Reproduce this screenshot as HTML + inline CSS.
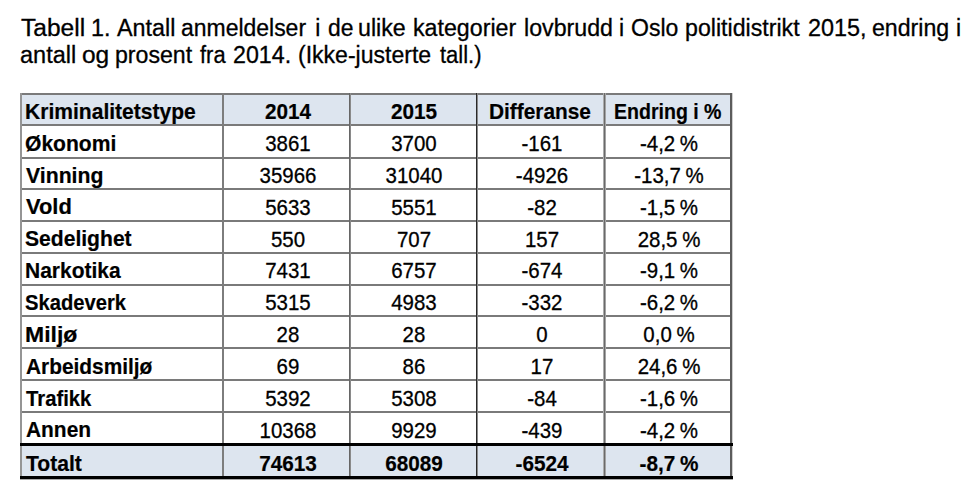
<!DOCTYPE html>
<html><head><meta charset="utf-8"><style>
html,body{margin:0;padding:0;background:#fff;width:979px;height:495px;overflow:hidden;position:relative}
.t{position:absolute;white-space:nowrap;font-family:"Liberation Sans",sans-serif;color:#000;line-height:1}
.c{text-align:center;width:200px}
.b{font-weight:bold}
.ln{position:absolute;background:#7a7a7a}
.bg{position:absolute;background:#dde5ef}
</style></head><body>

<div class="bg" style="left:21px;top:94px;width:710px;height:31px"></div>
<div class="bg" style="left:21px;top:444.5px;width:710px;height:33.0px"></div>
<div class="t" style="left:20.52px;top:17.03px;font-size:23.0px;transform:scaleX(1.0667);transform-origin:0 0;-webkit-text-stroke:0.3px #000">Tabell</div>
<div class="t" style="left:90.74px;top:17.03px;font-size:23.0px;transform:scaleX(1.0149);transform-origin:0 0;-webkit-text-stroke:0.3px #000">1.</div>
<div class="t" style="left:116.70px;top:17.03px;font-size:23.0px;transform:scaleX(1.0140);transform-origin:0 0;-webkit-text-stroke:0.3px #000">Antall</div>
<div class="t" style="left:181.38px;top:17.03px;font-size:23.0px;transform:scaleX(0.9979);transform-origin:0 0;-webkit-text-stroke:0.3px #000">anmeldelser</div>
<div class="t" style="left:315.26px;top:17.03px;font-size:23.0px;transform:scaleX(1.0000);transform-origin:0 0;-webkit-text-stroke:0.3px #000">i</div>
<div class="t" style="left:328.29px;top:17.03px;font-size:23.0px;transform:scaleX(0.9945);transform-origin:0 0;-webkit-text-stroke:0.3px #000">de</div>
<div class="t" style="left:358.45px;top:17.03px;font-size:23.0px;transform:scaleX(1.0082);transform-origin:0 0;-webkit-text-stroke:0.3px #000">ulike</div>
<div class="t" style="left:412.95px;top:17.03px;font-size:23.0px;transform:scaleX(1.0087);transform-origin:0 0;-webkit-text-stroke:0.3px #000">kategorier</div>
<div class="t" style="left:523.65px;top:17.03px;font-size:23.0px;transform:scaleX(1.0082);transform-origin:0 0;-webkit-text-stroke:0.3px #000">lovbrudd</div>
<div class="t" style="left:619.06px;top:17.03px;font-size:23.0px;transform:scaleX(1.0000);transform-origin:0 0;-webkit-text-stroke:0.3px #000">i</div>
<div class="t" style="left:631.12px;top:17.03px;font-size:23.0px;transform:scaleX(1.0004);transform-origin:0 0;-webkit-text-stroke:0.3px #000">Oslo</div>
<div class="t" style="left:685.25px;top:17.03px;font-size:23.0px;transform:scaleX(1.0072);transform-origin:0 0;-webkit-text-stroke:0.3px #000">politidistrikt</div>
<div class="t" style="left:807.50px;top:17.03px;font-size:23.0px;transform:scaleX(1.0172);transform-origin:0 0;-webkit-text-stroke:0.3px #000">2015,</div>
<div class="t" style="left:872.18px;top:17.03px;font-size:23.0px;transform:scaleX(1.0065);transform-origin:0 0;-webkit-text-stroke:0.3px #000">endring</div>
<div class="t" style="left:956.06px;top:17.03px;font-size:23.0px;transform:scaleX(1.0000);transform-origin:0 0;-webkit-text-stroke:0.3px #000">i</div>
<div class="t" style="left:20.37px;top:44.13px;font-size:23.0px;transform:scaleX(1.0218);transform-origin:0 0;-webkit-text-stroke:0.3px #000">antall</div>
<div class="t" style="left:82.23px;top:44.13px;font-size:23.0px;transform:scaleX(1.0648);transform-origin:0 0;-webkit-text-stroke:0.3px #000">og</div>
<div class="t" style="left:115.25px;top:44.13px;font-size:23.0px;transform:scaleX(1.0059);transform-origin:0 0;-webkit-text-stroke:0.3px #000">prosent</div>
<div class="t" style="left:199.90px;top:44.13px;font-size:23.0px;transform:scaleX(0.9523);transform-origin:0 0;-webkit-text-stroke:0.3px #000">fra</div>
<div class="t" style="left:233.11px;top:44.13px;font-size:23.0px;transform:scaleX(1.0092);transform-origin:0 0;-webkit-text-stroke:0.3px #000">2014.</div>
<div class="t" style="left:297.82px;top:44.13px;font-size:23.0px;transform:scaleX(1.0014);transform-origin:0 0;-webkit-text-stroke:0.3px #000">(Ikke-justerte</div>
<div class="t" style="left:440.40px;top:44.13px;font-size:23.0px;transform:scaleX(0.9560);transform-origin:0 0;-webkit-text-stroke:0.3px #000">tall.)</div>
<div class="ln" style="left:20px;top:93.0px;width:712px;height:2px"></div>
<div class="ln" style="left:20px;top:124.0px;width:712px;height:2px"></div>
<div class="ln" style="left:20px;top:156.5px;width:712px;height:2px"></div>
<div class="ln" style="left:20px;top:188.0px;width:712px;height:2px"></div>
<div class="ln" style="left:20px;top:220.0px;width:712px;height:2px"></div>
<div class="ln" style="left:20px;top:251.5px;width:712px;height:2px"></div>
<div class="ln" style="left:20px;top:283.5px;width:712px;height:2px"></div>
<div class="ln" style="left:20px;top:315.0px;width:712px;height:2px"></div>
<div class="ln" style="left:20px;top:347.0px;width:712px;height:2px"></div>
<div class="ln" style="left:20px;top:379.0px;width:712px;height:2px"></div>
<div class="ln" style="left:20px;top:410.5px;width:712px;height:2px"></div>
<div class="ln" style="background:#959595;left:20px;top:93px;width:1px;height:385.5px"></div>
<div class="ln" style="background:#959595;left:21px;top:93px;width:1px;height:385.5px"></div>
<div class="ln" style="background:#7d7d7d;left:222px;top:93px;width:1px;height:385.5px"></div>
<div class="ln" style="background:#7d7d7d;left:223px;top:93px;width:1px;height:385.5px"></div>
<div class="ln" style="background:#666;left:349px;top:93px;width:1px;height:385.5px"></div>
<div class="ln" style="background:#8a8a8a;left:350px;top:93px;width:1px;height:385.5px"></div>
<div class="ln" style="background:#2a2a2a;left:476px;top:93px;width:1px;height:385.5px"></div>
<div class="ln" style="background:#8a8a8a;left:477px;top:93px;width:1px;height:385.5px"></div>
<div class="ln" style="background:#acacac;left:603px;top:93px;width:1px;height:385.5px"></div>
<div class="ln" style="background:#6a6a6a;left:604px;top:93px;width:1px;height:385.5px"></div>
<div class="ln" style="background:#a4a4a4;left:605px;top:93px;width:1px;height:385.5px"></div>
<div class="ln" style="background:#5c5c5c;left:730px;top:93px;width:1px;height:385.5px"></div>
<div class="ln" style="background:#5c5c5c;left:731px;top:93px;width:1px;height:385.5px"></div>
<div class="ln" style="background:#d0d0d0;left:732px;top:93px;width:1px;height:385.5px"></div>
<div class="ln" style="background:#000;left:20px;top:443px;width:713px;height:3px"></div>
<div class="ln" style="background:#000;left:20px;top:476px;width:713px;height:3px"></div>
<div class="ln" style="background:#555;left:20px;top:479px;width:713px;height:1px;opacity:0.5"></div>
<div class="t b" style="left:24.98px;top:100.88px;font-size:22px;transform:scaleX(0.9571);transform-origin:0 0;-webkit-text-stroke:0.2px #000">Kriminalitetstype</div>
<div class="t c b" style="left:187.70px;top:100.92px;font-size:22.3px;transform:scaleX(0.93);-webkit-text-stroke:0.2px #000">2014</div>
<div class="t c b" style="left:314.45px;top:100.92px;font-size:22.3px;transform:scaleX(0.93);-webkit-text-stroke:0.2px #000">2015</div>
<div class="t b" style="left:488.90px;top:100.92px;font-size:22.3px;transform:scaleX(0.9345);transform-origin:0 0;-webkit-text-stroke:0.2px #000">Differanse</div>
<div class="t b" style="left:614.08px;top:100.92px;font-size:22.3px;transform:scaleX(0.8765);transform-origin:0 0;-webkit-text-stroke:0.2px #000">Endring i %</div>
<div class="t b" style="left:24.84px;top:132.68px;font-size:22px;transform:scaleX(0.9577);transform-origin:0 0;-webkit-text-stroke:0.2px #000">Økonomi</div>
<div class="t c" style="left:187.70px;top:132.98px;font-size:22px;transform:scaleX(0.93);-webkit-text-stroke:0.3px #000">3861</div>
<div class="t c" style="left:314.45px;top:132.98px;font-size:22px;transform:scaleX(0.93);-webkit-text-stroke:0.3px #000">3700</div>
<div class="t c" style="left:441.55px;top:132.98px;font-size:22px;transform:scaleX(0.93);-webkit-text-stroke:0.3px #000">-161</div>
<div class="t c" style="left:568.80px;top:132.98px;font-size:22px;transform:scaleX(0.93);-webkit-text-stroke:0.3px #000">-4,2<span style="word-spacing:-0.05em"> </span>%</div>
<div class="t b" style="left:25.50px;top:164.58px;font-size:22px;transform:scaleX(0.9652);transform-origin:0 0;-webkit-text-stroke:0.2px #000">Vinning</div>
<div class="t c" style="left:187.70px;top:164.88px;font-size:22px;transform:scaleX(0.93);-webkit-text-stroke:0.3px #000">35966</div>
<div class="t c" style="left:314.45px;top:164.88px;font-size:22px;transform:scaleX(0.93);-webkit-text-stroke:0.3px #000">31040</div>
<div class="t c" style="left:441.55px;top:164.88px;font-size:22px;transform:scaleX(0.93);-webkit-text-stroke:0.3px #000">-4926</div>
<div class="t c" style="left:568.80px;top:164.88px;font-size:22px;transform:scaleX(0.93);-webkit-text-stroke:0.3px #000">-13,7<span style="word-spacing:-0.05em"> </span>%</div>
<div class="t b" style="left:26.00px;top:196.48px;font-size:22px;transform:scaleX(0.9950);transform-origin:0 0;-webkit-text-stroke:0.2px #000">Vold</div>
<div class="t c" style="left:187.70px;top:196.78px;font-size:22px;transform:scaleX(0.93);-webkit-text-stroke:0.3px #000">5633</div>
<div class="t c" style="left:314.45px;top:196.78px;font-size:22px;transform:scaleX(0.93);-webkit-text-stroke:0.3px #000">5551</div>
<div class="t c" style="left:441.55px;top:196.78px;font-size:22px;transform:scaleX(0.93);-webkit-text-stroke:0.3px #000">-82</div>
<div class="t c" style="left:568.80px;top:196.78px;font-size:22px;transform:scaleX(0.93);-webkit-text-stroke:0.3px #000">-1,5<span style="word-spacing:-0.05em"> </span>%</div>
<div class="t b" style="left:25.07px;top:228.28px;font-size:22px;transform:scaleX(0.9585);transform-origin:0 0;-webkit-text-stroke:0.2px #000">Sedelighet</div>
<div class="t c" style="left:187.70px;top:228.58px;font-size:22px;transform:scaleX(0.93);-webkit-text-stroke:0.3px #000">550</div>
<div class="t c" style="left:314.45px;top:228.58px;font-size:22px;transform:scaleX(0.93);-webkit-text-stroke:0.3px #000">707</div>
<div class="t c" style="left:441.55px;top:228.58px;font-size:22px;transform:scaleX(0.93);-webkit-text-stroke:0.3px #000">157</div>
<div class="t c" style="left:568.80px;top:228.58px;font-size:22px;transform:scaleX(0.93);-webkit-text-stroke:0.3px #000">28,5<span style="word-spacing:-0.05em"> </span>%</div>
<div class="t b" style="left:24.69px;top:260.18px;font-size:22px;transform:scaleX(0.9532);transform-origin:0 0;-webkit-text-stroke:0.2px #000">Narkotika</div>
<div class="t c" style="left:187.70px;top:260.48px;font-size:22px;transform:scaleX(0.93);-webkit-text-stroke:0.3px #000">7431</div>
<div class="t c" style="left:314.45px;top:260.48px;font-size:22px;transform:scaleX(0.93);-webkit-text-stroke:0.3px #000">6757</div>
<div class="t c" style="left:441.55px;top:260.48px;font-size:22px;transform:scaleX(0.93);-webkit-text-stroke:0.3px #000">-674</div>
<div class="t c" style="left:568.80px;top:260.48px;font-size:22px;transform:scaleX(0.93);-webkit-text-stroke:0.3px #000">-9,1<span style="word-spacing:-0.05em"> </span>%</div>
<div class="t b" style="left:25.08px;top:291.98px;font-size:22px;transform:scaleX(0.9173);transform-origin:0 0;-webkit-text-stroke:0.2px #000">Skadeverk</div>
<div class="t c" style="left:187.70px;top:292.28px;font-size:22px;transform:scaleX(0.93);-webkit-text-stroke:0.3px #000">5315</div>
<div class="t c" style="left:314.45px;top:292.28px;font-size:22px;transform:scaleX(0.93);-webkit-text-stroke:0.3px #000">4983</div>
<div class="t c" style="left:441.55px;top:292.28px;font-size:22px;transform:scaleX(0.93);-webkit-text-stroke:0.3px #000">-332</div>
<div class="t c" style="left:568.80px;top:292.28px;font-size:22px;transform:scaleX(0.93);-webkit-text-stroke:0.3px #000">-6,2<span style="word-spacing:-0.05em"> </span>%</div>
<div class="t b" style="left:24.56px;top:323.88px;font-size:22px;transform:scaleX(1.0453);transform-origin:0 0;-webkit-text-stroke:0.2px #000">Miljø</div>
<div class="t c" style="left:187.70px;top:324.18px;font-size:22px;transform:scaleX(0.93);-webkit-text-stroke:0.3px #000">28</div>
<div class="t c" style="left:314.45px;top:324.18px;font-size:22px;transform:scaleX(0.93);-webkit-text-stroke:0.3px #000">28</div>
<div class="t c" style="left:441.55px;top:324.18px;font-size:22px;transform:scaleX(0.93);-webkit-text-stroke:0.3px #000">0</div>
<div class="t c" style="left:568.80px;top:324.18px;font-size:22px;transform:scaleX(0.93);-webkit-text-stroke:0.3px #000">0,0<span style="word-spacing:-0.05em"> </span>%</div>
<div class="t b" style="left:25.67px;top:355.68px;font-size:22px;transform:scaleX(0.9483);transform-origin:0 0;-webkit-text-stroke:0.2px #000">Arbeidsmiljø</div>
<div class="t c" style="left:187.70px;top:355.98px;font-size:22px;transform:scaleX(0.93);-webkit-text-stroke:0.3px #000">69</div>
<div class="t c" style="left:314.45px;top:355.98px;font-size:22px;transform:scaleX(0.93);-webkit-text-stroke:0.3px #000">86</div>
<div class="t c" style="left:441.55px;top:355.98px;font-size:22px;transform:scaleX(0.93);-webkit-text-stroke:0.3px #000">17</div>
<div class="t c" style="left:568.80px;top:355.98px;font-size:22px;transform:scaleX(0.93);-webkit-text-stroke:0.3px #000">24,6<span style="word-spacing:-0.05em"> </span>%</div>
<div class="t b" style="left:26.00px;top:387.58px;font-size:22px;transform:scaleX(0.9216);transform-origin:0 0;-webkit-text-stroke:0.2px #000">Trafikk</div>
<div class="t c" style="left:187.70px;top:387.88px;font-size:22px;transform:scaleX(0.93);-webkit-text-stroke:0.3px #000">5392</div>
<div class="t c" style="left:314.45px;top:387.88px;font-size:22px;transform:scaleX(0.93);-webkit-text-stroke:0.3px #000">5308</div>
<div class="t c" style="left:441.55px;top:387.88px;font-size:22px;transform:scaleX(0.93);-webkit-text-stroke:0.3px #000">-84</div>
<div class="t c" style="left:568.80px;top:387.88px;font-size:22px;transform:scaleX(0.93);-webkit-text-stroke:0.3px #000">-1,6<span style="word-spacing:-0.05em"> </span>%</div>
<div class="t b" style="left:25.67px;top:419.48px;font-size:22px;transform:scaleX(0.9503);transform-origin:0 0;-webkit-text-stroke:0.2px #000">Annen</div>
<div class="t c" style="left:187.70px;top:419.78px;font-size:22px;transform:scaleX(0.93);-webkit-text-stroke:0.3px #000">10368</div>
<div class="t c" style="left:314.45px;top:419.78px;font-size:22px;transform:scaleX(0.93);-webkit-text-stroke:0.3px #000">9929</div>
<div class="t c" style="left:441.55px;top:419.78px;font-size:22px;transform:scaleX(0.93);-webkit-text-stroke:0.3px #000">-439</div>
<div class="t c" style="left:568.80px;top:419.78px;font-size:22px;transform:scaleX(0.93);-webkit-text-stroke:0.3px #000">-4,2<span style="word-spacing:-0.05em"> </span>%</div>
<div class="t b" style="left:26.40px;top:452.68px;font-size:22px;transform:scaleX(0.9598);transform-origin:0 0;-webkit-text-stroke:0.2px #000">Totalt</div>
<div class="t c b" style="left:187.70px;top:453.22px;font-size:22.3px;transform:scaleX(0.93);-webkit-text-stroke:0.2px #000">74613</div>
<div class="t c b" style="left:314.45px;top:453.22px;font-size:22.3px;transform:scaleX(0.93);-webkit-text-stroke:0.2px #000">68089</div>
<div class="t c b" style="left:441.55px;top:453.22px;font-size:22.3px;transform:scaleX(0.93);-webkit-text-stroke:0.2px #000">-6524</div>
<div class="t c b" style="left:568.80px;top:453.22px;font-size:22.3px;transform:scaleX(0.93);-webkit-text-stroke:0.2px #000">-8,7<span style="word-spacing:-0.05em"> </span>%</div>
</body></html>
